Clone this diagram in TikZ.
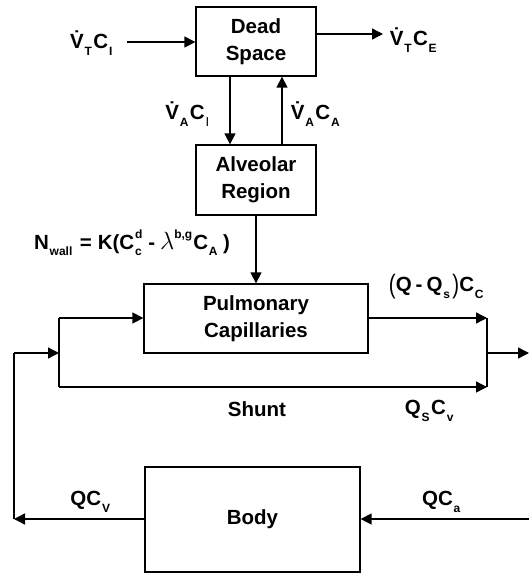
\documentclass[tikz,border=0pt]{standalone}
\usepackage{fontspec}
\usepackage{graphicx}
\setmainfont{Liberation Sans}
\usetikzlibrary{arrows.meta}
\newcommand\sbx[1]{\kern0.8pt\raisebox{-0.32em}{\fontsize{12}{12}\selectfont #1}\kern1.5pt}
\newcommand\spx[1]{\raisebox{0.5em}{\fontsize{12}{12}\selectfont #1}}
\newcommand\ssx[2]{\rlap{\kern0.8pt\spx{#1}}\sbx{#2}}
\newcommand\Vd{\.{V}}
\newcommand\bigp[1]{\raisebox{-0.12em}{\scalebox{1}[1.3]{\mdseries #1}}}
\tikzset{
  blk/.style={draw, line width=1.3pt, align=center, inner sep=0pt},
  lbl/.style={inner sep=0pt},
  flow/.style={line width=1.4pt, -{Triangle[length=11pt,width=11pt]}},
  seg/.style={line width=1.4pt},
  every node/.style={font=\bfseries\fontsize{20.5}{27}\selectfont}
}
\begin{document}
\begin{tikzpicture}[x=1pt,y=-1pt]
\useasboundingbox (0,0) rectangle (529,574);
% boxes
\node[blk, minimum width=120pt, minimum height=69pt] (ds) at (256,41.5) {Dead\\Space};
\node[blk, minimum width=120pt, minimum height=70pt] (alv) at (256,180) {Alveolar\\Region};
\node[blk, minimum width=224pt, minimum height=69pt] (pc) at (256,318.5) {Pulmonary\\Capillaries};
\node[blk, minimum width=215pt, minimum height=105pt] (body) at (252.5,519.5) {Body};
% coordinates
\coordinate (inS) at (127,42);
\coordinate (outE) at (383,34);
\coordinate (splitM) at (59,353);
\coordinate (splitT) at (59,318);
\coordinate (splitB) at (59,387);
\coordinate (mergeT) at (487,318);
\coordinate (mergeB) at (487,387);
\coordinate (mergeM) at (487,353);
\coordinate (outR) at (529,353);
\coordinate (loopB) at (14,519);
\coordinate (loopT) at (14,353);
\coordinate (inR) at (529,519);
% connectors
\draw[flow] (inS) -- (inS -| ds.west);
\draw[flow] (outE -| ds.east) -- (outE);
\draw[flow] (ds.south -| 230,0) -- (alv.north -| 230,0);
\draw[flow] (alv.north -| 282,0) -- (ds.south -| 282,0);
\draw[flow] (alv.south) -- (pc.north);
\draw[flow] (splitT) -- (splitT -| pc.west);
\draw[seg] (splitT) -- (splitB);
\draw[flow] (splitB) -- (mergeB);
\draw[flow] (mergeT -| pc.east) -- (mergeT);
\draw[seg] (mergeT) -- (mergeB);
\draw[flow] (mergeM) -- (outR);
\draw[flow] (body.west |- loopB) -- (loopB);
\draw[seg] (loopB) -- (loopT);
\draw[flow] (loopT) -- (splitM);
\draw[flow] (inR) -- (body.east |- inR);
% labels
\node[lbl] (l1) at (92,43) {\Vd\sbx{T}C\sbx{I}};
\node[lbl] (l2) at (414,40) {\Vd\sbx{T}C\sbx{E}};
\node[lbl] (l3) at (188,114) {\Vd\sbx{A}C\sbx{\normalfont\fontsize{13}{13}\selectfont I}};
\node[lbl] (l4) at (316,114) {\Vd\sbx{A}C\sbx{A}};
\node[lbl] (l5) at (132,243) {N\sbx{wall}\kern6pt=\kern6pt K(C\ssx{d}{c}\kern5pt-\kern5pt{\fontsize{24}{24}\selectfont$\lambda$}\spx{b,g}\kern1pt C\sbx{A}\kern4pt)};
\node[lbl] (l6) at (437,287) {\bigp{(}Q\kern4pt-\kern4pt Q\sbx{s}\kern1pt\bigp{)}C\sbx{C}};
\node[lbl] (l7) at (257,409) {Shunt};
\node[lbl] (l8) at (430,411) {Q\sbx{S}C\sbx{v}};
\node[lbl] (l9) at (91,502) {QC\sbx{V}};
\node[lbl] (l10) at (442,502) {QC\sbx{a}};
\end{tikzpicture}
\end{document}
